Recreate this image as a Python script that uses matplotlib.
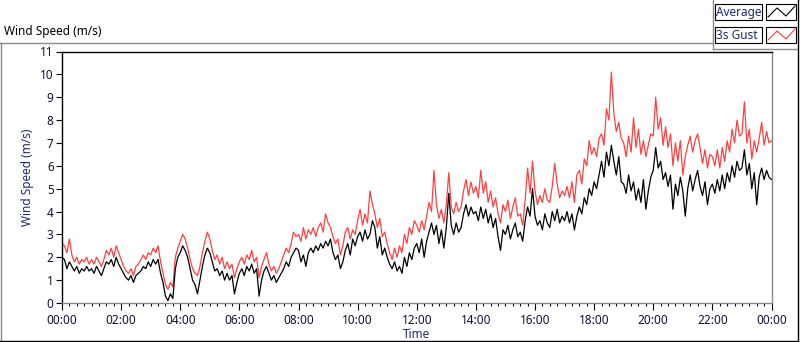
import numpy as np
import matplotlib
matplotlib.use("Agg")
import matplotlib.pyplot as plt
import matplotlib.ticker as ticker
from matplotlib.lines import Line2D
from matplotlib.patches import Rectangle

# wind speed readings, one value every 5 minutes (00:00 -> 24:00)
avg_speed = [
    2.0, 1.9, 1.5, 1.8, 1.6, 1.4, 1.6, 1.3, 1.5, 1.4, 1.6, 1.4,
    1.5, 1.3, 1.6, 1.4, 1.2, 1.5, 1.8, 1.7, 1.9, 1.6, 2.0, 1.7,
    1.5, 1.3, 1.1, 1.0, 1.2, 0.9, 1.2, 1.3, 1.4, 1.6, 1.5, 1.8,
    1.6, 1.9, 1.7, 1.9, 1.3, 0.9, 0.3, 0.1, 0.4, 0.2, 1.5, 2.0,
    2.2, 2.5, 2.3, 2.0, 1.5, 1.0, 0.8, 0.4, 1.0, 1.6, 2.1, 2.4,
    2.2, 1.8, 1.4, 1.5, 1.2, 1.4, 1.0, 1.3, 1.0, 1.2, 0.4, 0.9,
    1.3, 1.5, 1.2, 1.6, 1.4, 1.7, 1.3, 1.5, 0.3, 1.0, 1.4, 1.6,
    1.3, 1.0, 1.2, 0.9, 1.1, 1.3, 1.5, 1.8, 1.6, 2.0, 2.2, 2.4,
    2.3, 1.8, 2.1, 1.6, 2.2, 2.4, 2.2, 2.5, 2.3, 2.6, 2.4, 2.7,
    2.5, 2.8, 2.2, 1.9, 2.1, 1.5, 1.8, 2.3, 2.6, 2.1, 2.8, 2.5,
    2.9, 3.1, 2.7, 3.2, 2.8, 3.0, 3.6, 3.3, 2.4, 2.9, 2.1, 2.4,
    2.0, 1.7, 1.5, 1.8, 1.4, 1.6, 1.3, 2.0, 1.6, 2.2, 1.9, 2.4,
    2.6, 2.2, 2.8, 2.0, 2.7, 3.1, 3.5, 3.0, 3.4, 2.6, 3.2, 2.4,
    3.3, 4.8, 3.4, 3.0, 3.5, 3.1, 3.3, 3.9, 4.3, 3.8, 4.2, 3.9,
    4.0, 3.6, 4.2, 3.7, 4.1, 3.5, 3.9, 3.3, 3.7, 2.9, 2.3, 3.2,
    3.0, 3.4, 2.8, 3.2, 3.5, 2.9, 3.1, 2.7, 3.6, 4.2, 3.8, 5.0,
    3.8, 3.4, 3.6, 3.2, 3.9, 3.5, 3.3, 4.0, 3.6, 4.1, 3.5, 3.8,
    3.6, 4.0, 3.5, 3.9, 3.2, 3.8, 4.2, 3.9, 4.6, 4.3, 5.0, 4.7,
    5.3, 5.0, 5.6, 6.2, 5.5, 6.6, 6.0, 6.9, 6.2, 5.6, 6.4, 5.3,
    5.2, 4.8, 5.6, 4.9, 5.3, 4.5, 5.0, 4.4, 5.4, 4.1, 4.9, 5.5,
    5.8, 6.8, 5.9, 6.2, 5.4, 5.7, 5.1, 5.6, 4.1, 5.2, 4.7, 5.5,
    4.9, 3.8, 5.0, 5.6, 4.9, 5.4, 5.8, 5.1, 4.7, 5.3, 4.3, 5.0,
    5.2, 4.8, 5.4, 4.9, 5.6, 5.0, 5.7, 5.3, 6.0, 5.5, 6.2, 5.8,
    5.9, 6.7, 5.6, 6.1, 5.0, 5.7, 4.3, 5.5, 5.9, 5.4, 5.8, 5.5,
    5.4,
]
gust_speed = [
    2.6, 2.5, 2.2, 2.8, 2.1, 1.8, 2.0, 1.7, 1.9, 1.8, 2.0, 1.7,
    1.9, 1.7, 2.0, 1.8, 1.6, 1.9, 2.3, 2.1, 2.4, 2.0, 2.5, 2.2,
    1.9, 1.6, 1.4, 1.3, 1.5, 1.2, 1.6, 1.7, 1.9, 2.1, 1.9, 2.2,
    2.1, 2.4, 2.2, 2.5, 1.8, 1.3, 0.8, 0.6, 0.9, 0.7, 2.0, 2.4,
    2.7, 3.0, 2.8, 2.4, 1.9, 1.5, 1.3, 1.2, 1.6, 2.2, 2.7, 3.1,
    2.8, 2.3, 1.9, 2.1, 1.7, 2.0, 1.5, 1.8, 1.5, 1.7, 1.1, 1.5,
    1.8, 2.0, 1.7, 2.1, 1.9, 2.3, 1.8, 2.0, 1.1, 1.6, 1.9, 2.2,
    1.7, 1.4, 1.6, 1.3, 1.5, 1.8, 2.1, 2.4, 2.2, 2.6, 3.1, 2.9,
    3.0, 2.7, 3.3, 2.8, 3.2, 3.0, 3.3, 2.9, 3.3, 3.5, 3.1, 3.9,
    3.5, 3.3, 2.9, 2.6, 2.8, 2.1, 2.5, 3.1, 3.3, 2.8, 3.2, 3.0,
    3.6, 4.1, 3.4, 3.9, 3.5, 4.9, 4.3, 3.9, 3.3, 3.7, 2.9, 3.1,
    2.6, 2.2, 1.9, 2.4, 2.0, 2.5, 2.2, 3.0, 2.6, 3.3, 3.0, 3.6,
    3.4, 3.1, 3.6, 3.2, 3.8, 4.4, 4.0, 5.8, 4.3, 3.7, 4.1, 3.5,
    4.3, 5.7, 4.2, 3.9, 4.4, 4.0, 4.2, 4.9, 5.4, 4.7, 5.3, 4.8,
    5.1, 4.6, 5.8, 4.8, 5.3, 4.4, 4.9, 4.2, 4.6, 3.9, 3.5, 4.3,
    4.0, 4.5, 3.7, 4.2, 4.6, 3.8, 3.9, 3.4, 4.5, 5.9, 4.8, 6.2,
    4.9, 4.3, 4.7, 4.4, 5.0, 4.5, 4.4, 5.1, 6.1, 5.2, 4.6, 4.9,
    4.7, 5.1, 4.6, 5.3, 4.4, 5.6, 5.8, 5.2, 6.3, 6.0, 7.1, 6.5,
    6.8, 6.4, 7.2, 7.4, 6.9, 8.5, 8.0, 10.1, 8.3, 7.5, 7.9, 7.2,
    7.0, 6.4, 7.3, 6.6, 8.1, 6.8, 7.6, 6.5, 7.1, 6.4, 6.9, 7.4,
    7.3, 9.0, 7.6, 8.1, 6.9, 7.7, 6.8, 7.4, 6.0, 7.0, 6.2, 7.1,
    5.6, 6.4, 6.9, 7.3, 6.6, 7.1, 7.4, 6.8, 6.1, 6.7, 5.9, 6.5,
    6.4, 6.0, 6.7, 5.9, 6.8, 6.2, 7.1, 6.6, 7.6, 7.0, 8.0, 7.3,
    7.4, 8.8, 7.0, 7.6, 6.3, 7.1, 6.6, 7.2, 7.9, 6.9, 7.5, 7.0,
    7.1,
]
hour_ticks = [0, 2, 4, 6, 8, 10, 12, 14, 16, 18, 20, 22, 24]
hour_labels = ["00:00", "02:00", "04:00", "06:00", "08:00", "10:00", "12:00",
               "14:00", "16:00", "18:00", "20:00", "22:00", "00:00"]
legend_names = ["Average", "3s Gust"]

W, H = 800, 342
plt.rcParams['font.family'] = ['Noto Sans', 'DejaVu Sans']

fig = plt.figure(figsize=(W / 100, H / 100), dpi=100)


def fx(x):
    return x / W


def fy(y):
    return 1 - y / H


hours = np.arange(len(avg_speed)) * 5 / 60.0

ax = fig.add_axes([fx(62), fy(303), fx(771.5) - fx(62), fy(51.5) - fy(303)])
ax.plot(hours, gust_speed, color='#ff4040', lw=0.9)
ax.plot(hours, avg_speed, color='black', lw=0.9)
ax.set_xlim(0, 24)
ax.set_ylim(0, 11)

ax.xaxis.set_major_locator(ticker.FixedLocator(hour_ticks))
ax.xaxis.set_major_formatter(ticker.FixedFormatter(hour_labels))
ax.xaxis.set_minor_locator(ticker.MultipleLocator(0.25))
ax.yaxis.set_major_locator(ticker.MultipleLocator(1))
ax.tick_params(axis='both', which='major', labelsize=8.5, length=4, width=0.8,
               pad=2, labelcolor='#111133')
ax.tick_params(axis='x', which='minor', length=2.5, width=0.8)
ax.tick_params(axis='x', which='major', length=5, pad=3)

ax.spines['top'].set_color('black')
ax.spines['left'].set_color('black')
ax.spines['right'].set_color('#8a8a8a')
ax.spines['bottom'].set_color('#8a8a8a')
for s in ax.spines.values():
    s.set_linewidth(1.0)

ax.set_ylabel("Wind Speed (m/s)", fontsize=8.5, color='#1c2a6b', labelpad=4)
ax.set_xlabel("Time", fontsize=8.5, color='#1c2a6b', labelpad=1)

# chart title and frame
fig.text(fx(4), fy(35), "Wind Speed (m/s)", fontsize=8.5, color='black', va='baseline')
fig.add_artist(Line2D([fx(0), fx(712)], [fy(42.5), fy(42.5)], color='#8a8a8a', lw=1))
fig.add_artist(Line2D([fx(0.5), fx(0.5)], [fy(42.5), fy(341)], color='#8a8a8a', lw=1))
fig.add_artist(Line2D([fx(0), fx(798)], [fy(341), fy(341)], color='black', lw=1))
fig.add_artist(Line2D([fx(797.5), fx(797.5)], [fy(0), fy(341)], color='black', lw=1))
fig.add_artist(Line2D([fx(712.5), fx(712.5)], [fy(0), fy(49)], color='#8a8a8a', lw=1))
fig.add_artist(Line2D([fx(712.5), fx(797)], [fy(49), fy(49)], color='#8a8a8a', lw=1))

# legend boxes
icon_colors = ['black', '#ff4040']
for i, name in enumerate(legend_names):
    top = 4 + i * 23
    fig.add_artist(Rectangle((fx(715), fy(top + 16)), fx(47), 16 / H,
                             fill=False, edgecolor='black', lw=0.8))
    fig.text(fx(716.5), fy(top + 8.5), name, fontsize=8.5, color='#1c2a6b', va='center')
    fig.add_artist(Rectangle((fx(766), fy(top + 16)), fx(30), 16 / H,
                             fill=False, edgecolor='black', lw=0.8))
    fig.add_artist(Line2D([fx(768), fx(777), fx(786), fx(795)],
                          [fy(top + 13), fy(top + 4), fy(top + 12), fy(top + 2)],
                          color=icon_colors[i], lw=0.8))

fig.savefig("out.png", dpi=100)
